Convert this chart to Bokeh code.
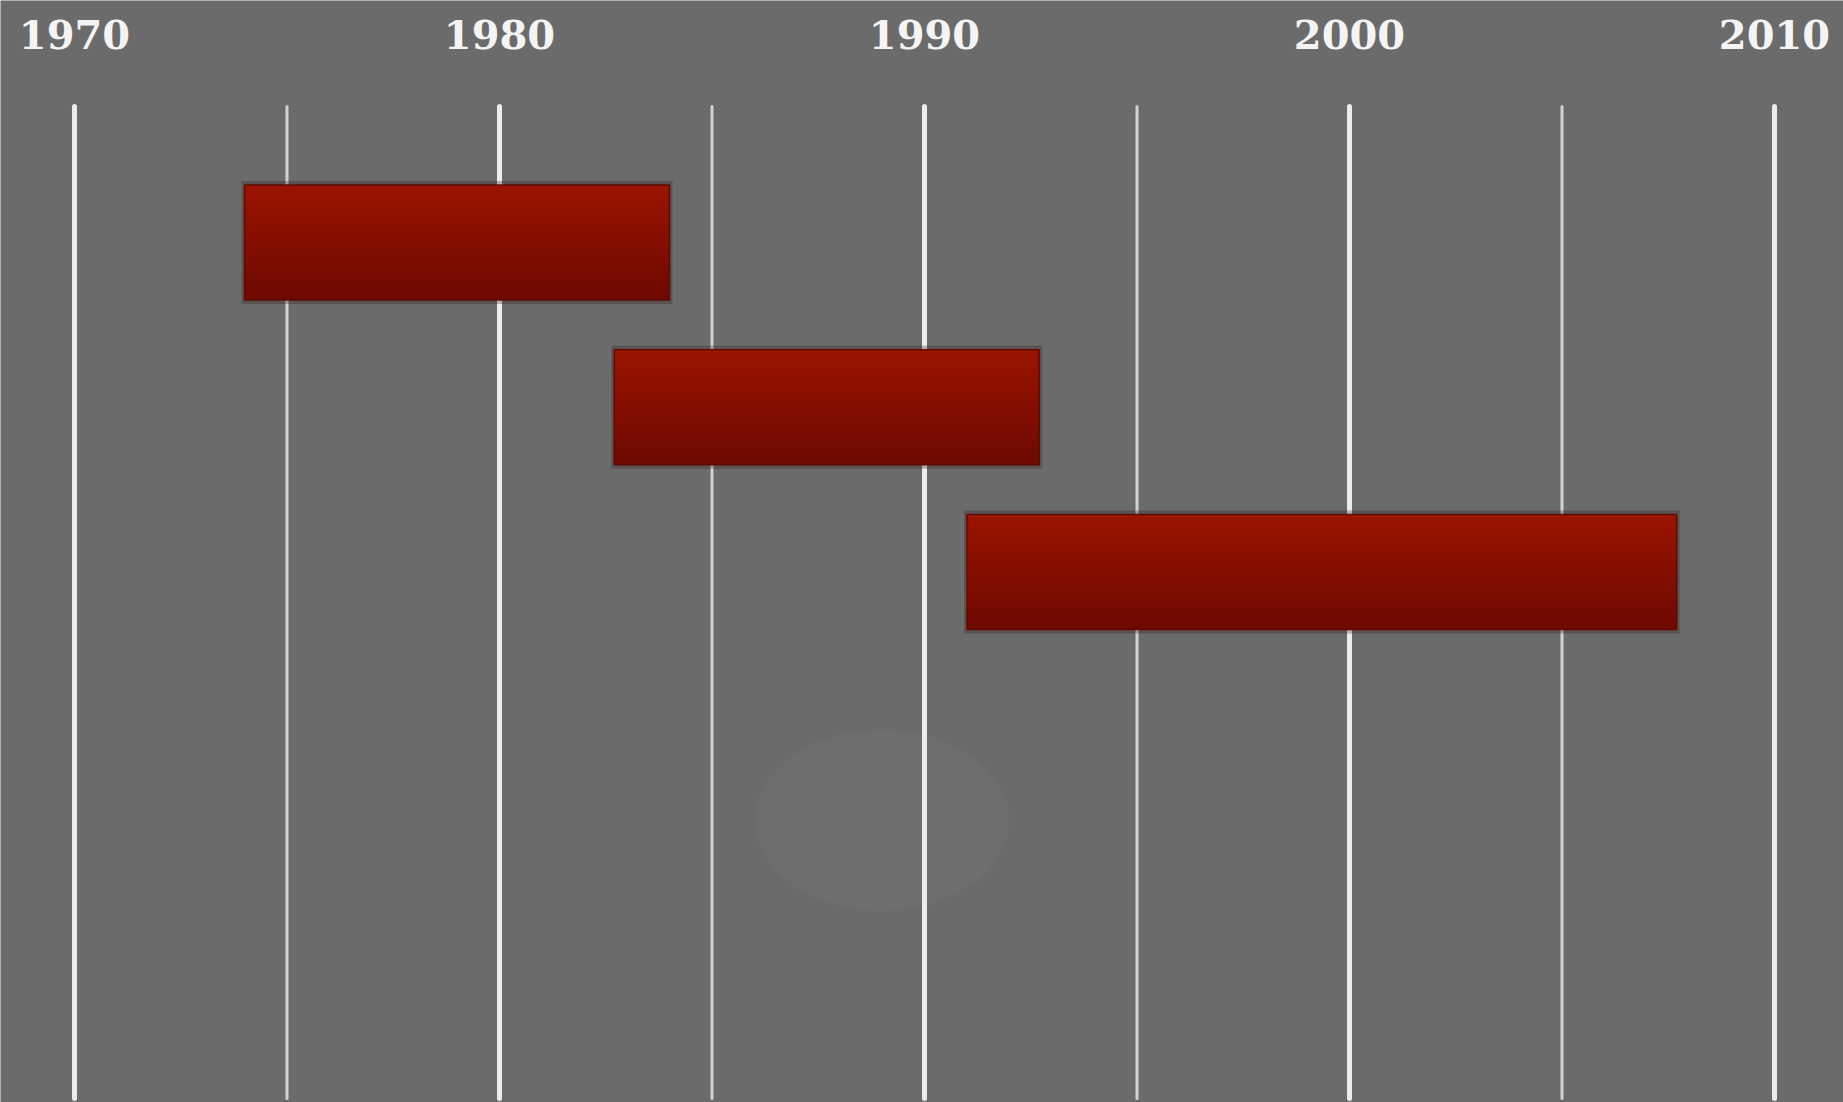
from bokeh.plotting import figure
from bokeh.models import Range1d, ColumnDataSource
from bokeh.core.properties import value
from bokeh.embed import file_html
from bokeh.resources import INLINE

# ---- data ----
decade_ticks = [1970, 1980, 1990, 2000, 2010]
tick_labels = ["1970", "1980", "1990", "2000", "2010"]
half_decade_ticks = [1975, 1985, 1995, 2005]
bar_rows = [0, 1, 2]
bar_starts = [1974.0, 1982.7, 1991.0]
bar_ends = [1984.0, 1992.7, 2007.7]

# ---- layout constants (geometry in row units) ----
W, H = 1843, 1102
PX_PER_ROW = 164.75
ROW0_PX = 242.0
def row_of_px(px):
    return (px - ROW0_PX) / PX_PER_ROW

BAR_H = 115.0 / PX_PER_ROW
LINE_TOP = row_of_px(106)
LINE_BOT = row_of_px(1098)
LABEL_BASE = row_of_px(34)

X0 = 1970 - 74 / 42.5
X1 = 2010 + (W - 1774) / 42.5

p = figure(width=W, height=H, output_backend="svg", toolbar_location=None,
           x_range=Range1d(X0, X1),
           y_range=Range1d(row_of_px(H), row_of_px(0)),
           min_border=0, min_border_left=0, min_border_right=0,
           min_border_top=0, min_border_bottom=0)
p.axis.visible = False
p.grid.visible = False
p.outline_line_color = None
p.background_fill_color = "#6b6b6b"
p.border_fill_color = "#6b6b6b"

# soft lighter patch as in the textured background
p.ellipse(x=[1989.0], y=[row_of_px(820)], width=6, height=1.1,
          fill_color="#7a7a7a", fill_alpha=0.22, line_color=None)

# grid lines
p.segment(x0=half_decade_ticks, x1=half_decade_ticks,
          y0=[LINE_TOP] * len(half_decade_ticks), y1=[LINE_BOT] * len(half_decade_ticks),
          line_color="#d2d2d2", line_width=3, line_cap="round")
p.segment(x0=decade_ticks, x1=decade_ticks,
          y0=[LINE_TOP] * len(decade_ticks), y1=[LINE_BOT] * len(decade_ticks),
          line_color="#ececec", line_width=5, line_cap="round")

# tick labels
p.text(x=decade_ticks, y=[LABEL_BASE] * len(decade_ticks), text=tick_labels,
       text_font=value("DejaVu Serif"), text_font_style="bold",
       text_font_size="40px", text_color="#f4f4f4",
       text_align="center", text_baseline="middle")

# bar shadows
pad_x = 3 / 42.5
pad_y = 4 / PX_PER_ROW
p.quad(left=[s - pad_x for s in bar_starts], right=[e + pad_x for e in bar_ends],
       top=[r - BAR_H / 2 - pad_y for r in bar_rows],
       bottom=[r + BAR_H / 2 + pad_y for r in bar_rows],
       fill_color="#3a1c18", fill_alpha=0.3, line_color=None)

# gradient bars built from slices
def lerp(c1, c2, t):
    a = [int(c1[i:i + 2], 16) for i in (1, 3, 5)]
    b = [int(c2[i:i + 2], 16) for i in (1, 3, 5)]
    return "#%02x%02x%02x" % tuple(round(a[k] + (b[k] - a[k]) * t) for k in range(3))

N = 30
L, R, T, B, C = [], [], [], [], []
for row, s, e in zip(bar_rows, bar_starts, bar_ends):
    top = row - BAR_H / 2
    for k in range(N):
        L.append(s)
        R.append(e)
        T.append(top + k * BAR_H / N)
        B.append(min(top + (k + 2) * BAR_H / N, row + BAR_H / 2))
        C.append(lerp("#9a1400", "#6e0900", k / (N - 1)))
src = ColumnDataSource(dict(left=L, right=R, top=T, bottom=B, color=C))
p.quad(left="left", right="right", top="top", bottom="bottom", source=src,
       fill_color="color", line_color=None)
p.quad(left=bar_starts, right=bar_ends,
       top=[r - BAR_H / 2 for r in bar_rows], bottom=[r + BAR_H / 2 for r in bar_rows],
       fill_color=None, line_color="#5c0800", line_width=1.5, line_alpha=0.9)

open("out.html", "w").write(file_html(p, INLINE))
